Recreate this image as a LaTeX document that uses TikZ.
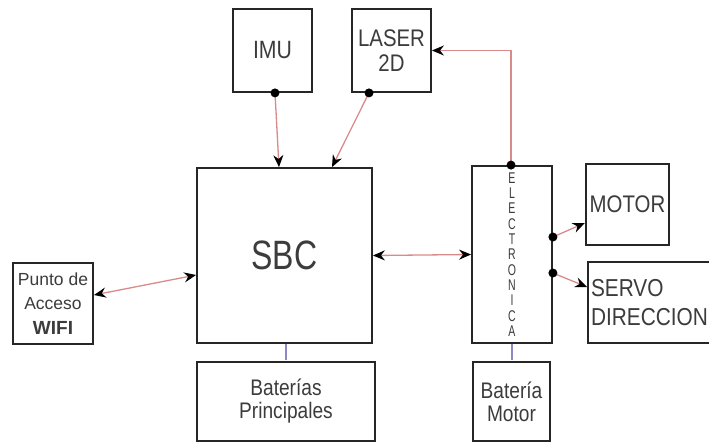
\documentclass[tikz,border=0pt]{standalone}
\usepackage{fontspec}
\setmainfont{Liberation Sans}
\newfontfamily\lbl[FakeStretch=0.85]{Liberation Sans}
\newfontfamily\sbcfont[FakeStretch=0.78]{Liberation Sans}
\newfontfamily\vfont[FakeStretch=0.68]{Liberation Sans}
\usetikzlibrary{arrows.meta}
\definecolor{linkred}{HTML}{D98A8A}
\definecolor{linkblue}{HTML}{8A88C8}
\definecolor{txtgray}{HTML}{3C3C3C}
\tikzset{
  blk/.style={draw=black!85, line width=1.8pt, fill=white, inner sep=4pt, text=txtgray, align=center},
  link/.style={draw=linkred, line width=1.3pt},
  tip/.style={-{Stealth[length=12pt,width=10pt,black]}},
  both/.style={{Stealth[length=12pt,width=10pt,black]}-{Stealth[length=12pt,width=10pt,black]}},
  pwr/.style={draw=linkblue, line width=2pt},
  dot/.style={circle, fill=black, inner sep=0pt, minimum size=9pt}
}
\begin{document}
\begin{tikzpicture}[x=1pt,y=-1pt]
\useasboundingbox (0,0) rectangle (709,442);
\node[blk, minimum width=79pt, minimum height=83pt, font=\lbl\fontsize{25}{26}\selectfont] (imu) at (272.5,50.5) {IMU};
\node[blk, minimum width=79pt, minimum height=83pt, font=\lbl\fontsize{24}{25}\selectfont] (laser) at (391.5,50.5) {LASER\\2D};
\node[blk, minimum width=175pt, minimum height=175pt, font=\sbcfont\fontsize{41}{42}\selectfont] (sbc) at (284.5,255.5) {SBC};
\node[blk, minimum width=80pt, minimum height=177pt, font=\vfont\fontsize{15.5}{15.3}\selectfont] (elec) at (512,254.5) {E\\L\\E\\C\\T\\R\\O\\N\\I\\C\\A};
\node[blk, minimum width=79pt, minimum height=81pt, font=\lbl\fontsize{24}{25}\selectfont] (motor) at (627.5,204.5) {MOTOR};
\node[blk, minimum width=124pt, minimum height=81pt, text width=118pt, inner sep=2pt, align=left, font=\lbl\fontsize{24.5}{29}\selectfont] (servo) at (650,302.5) {SERVO\\DIRECCION};
\node[blk, minimum width=80pt, minimum height=81pt, inner sep=1pt, font=\fontsize{17.5}{24.5}\selectfont] (wifi) at (53,303.5) {Punto de\\Acceso\\{\fontsize{19}{24}\selectfont\bfseries WIFI}};
\node[blk, minimum width=178pt, minimum height=79pt, font=\lbl\fontsize{22.5}{23}\selectfont] (batp) at (286,401.5) {Baterías\\Principales};
\node[blk, minimum width=77pt, minimum height=79pt, inner sep=1pt, font=\lbl\fontsize{22.5}{23}\selectfont] (batm) at (511.5,401.5) {Batería\\Motor};
% connectors
\draw[link,tip] ([xshift=2.5pt]imu.south) -- ([xshift=-5.5pt]sbc.north);
\node[dot] (imudot) at ([xshift=2.5pt]imu.south) {};
\draw[link,tip] ([xshift=-22.5pt]laser.south) -- ([xshift=47.5pt]sbc.north);
\node[dot] (laserdot) at ([xshift=-22.5pt]laser.south) {};
\draw[link,tip] ([xshift=-1pt]elec.north) |- (laser.east);
\node[dot] (elecdot) at ([xshift=-1pt]elec.north) {};
\draw[link,both] (sbc.east) -- (elec.west);
\draw[link,both] ([yshift=8.5pt]wifi.east) -- ([yshift=-19.5pt]sbc.west);
\draw[link,tip] ([yshift=17.5pt]elec.east) -- ([yshift=-18.5pt]motor.west);
\node[dot] (mdot) at ([yshift=17.5pt]elec.east) {};
\draw[link,tip] ([yshift=-18.5pt]elec.east) -- ([yshift=15.5pt]servo.west);
\node[dot] (sdot) at ([yshift=-18.5pt]elec.east) {};
\draw[pwr] ([yshift=1pt]batp.north) -- (batp.north |- sbc.south);
\draw[pwr] ([yshift=1pt]batm.north) -- (batm.north |- elec.south);
\end{tikzpicture}
\end{document}
